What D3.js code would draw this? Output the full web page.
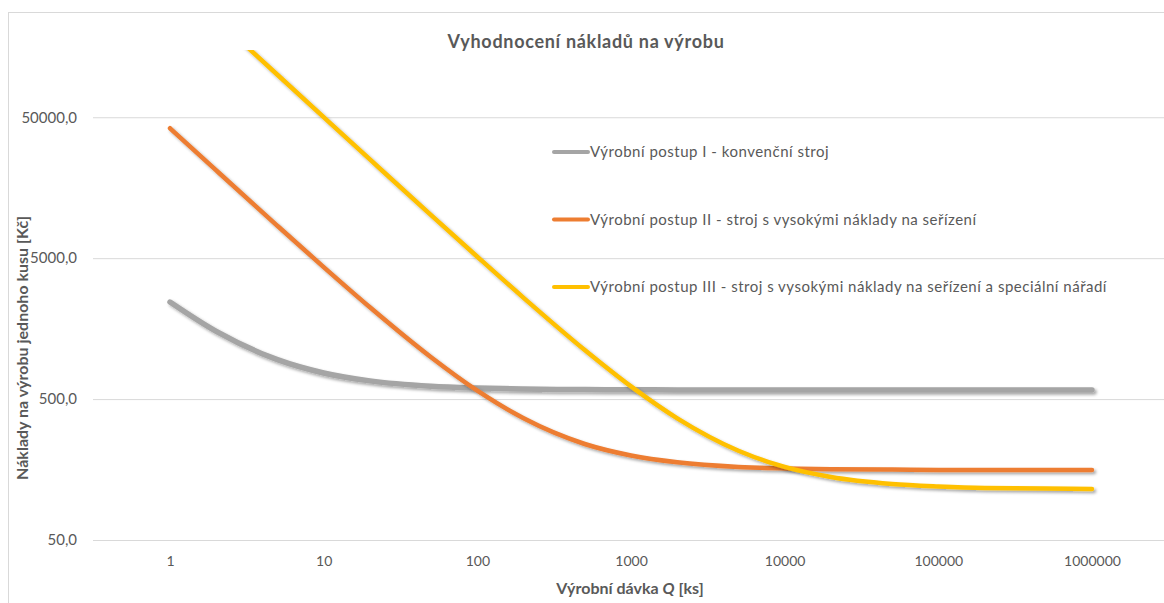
<!DOCTYPE html>
<html>
<head>
<meta charset="utf-8">
<script src="https://cdn.jsdelivr.net/npm/d3@7"></script>
<style>
  body { margin: 0; background: #fff; }
  text { font-family: Lato, "Open Sans", sans-serif; fill: #595959; }
</style>
</head>
<body>
<div class="canvas"></div>
<script>
// data
const batchSizes = [1, 2, 5, 10, 20, 50, 100, 200, 500, 1000, 2000, 5000, 10000, 20000, 50000, 100000, 200000, 500000, 1000000];
const costConventional = [2440, 1510, 952, 766, 673, 617, 599, 589, 584, 582, 581, 580, 580, 580, 580, 580, 580, 580, 580];
const costSetup = [41760, 20960, 8480, 4320, 2240, 990, 573, 365, 240, 199, 178, 165, 161, 159, 158, 157, 157, 157, 157];
const costSetupTools = [500100, 250100, 100100, 50100, 25100, 10100, 5115, 2615, 1115, 615, 365, 215, 165, 140, 125, 120, 117, 116, 115];
const seriesNames = [
  "Výrobní postup I - konvenční stroj",
  "Výrobní postup II - stroj s vysokými náklady na seřízení",
  "Výrobní postup III - stroj s vysokými náklady na seřízení a speciální nářadí"
];
const seriesColors = ["#a5a5a5", "#ed7d31", "#ffc000"];
const xTicks = [1, 10, 100, 1000, 10000, 100000, 1000000];
const yTicks = [50, 500, 5000, 50000];

const series = [costConventional, costSetup, costSetupTools].map((vals, i) => ({
  name: seriesNames[i],
  color: seriesColors[i],
  points: batchSizes.map((q, j) => [q, vals[j]])
}));

var svg = d3.select(".canvas").append("svg").attr("width", 1164).attr("height", 603);

// drop shadow like the office chart
const defs = svg.append("defs");
defs.append("filter").attr("id", "shadow")
    .attr("x", "-20%").attr("y", "-20%").attr("width", "140%").attr("height", "140%")
    .append("feDropShadow")
    .attr("dx", 2).attr("dy", 2).attr("stdDeviation", 1.8)
    .attr("flood-color", "#000").attr("flood-opacity", 0.35);

const plotLeft = 93, plotRight = 1169, plotTop = 50, plotBottom = 540;
defs.append("clipPath").attr("id", "plotclip")
    .append("rect").attr("x", plotLeft).attr("y", plotTop)
    .attr("width", plotRight - plotLeft).attr("height", plotBottom - plotTop);

// chart border
svg.append("rect")
    .attr("x", 8.5).attr("y", 12.5)
    .attr("width", 1170).attr("height", 600)
    .attr("fill", "none").attr("stroke", "#d9d9d9");

const x = d3.scaleLog().domain([1, 1000000]).range([170, 1092]);
const y = d3.scaleLog().domain([50, 150000]).range([plotBottom, plotTop]);

// gridlines + y labels
const yAxis = d3.axisLeft(y).tickValues(yTicks)
    .tickSize(-(plotRight - plotLeft))
    .tickFormat(d => d3.format(".1f")(d).replace(".", ","));
const gy = svg.append("g").attr("transform", `translate(${plotLeft},0)`).call(yAxis);
gy.select(".domain").remove();
gy.selectAll(".tick line").attr("stroke", "#d9d9d9");
gy.selectAll(".tick text").attr("font-size", 15).attr("fill", "#595959").attr("x", -16);

// x labels
const xAxis = d3.axisBottom(x).tickValues(xTicks).tickSize(0).tickPadding(16).tickFormat(d3.format("d"));
const gx = svg.append("g").attr("transform", `translate(0,${plotBottom})`).call(xAxis);
gx.select(".domain").remove();
gx.selectAll(".tick text").attr("font-size", 14).attr("fill", "#595959");

// lines
const line = d3.line()
    .x(d => x(d[0]))
    .y(d => y(d[1]))
    .curve(d3.curveMonotoneX);

const lines = svg.append("g").attr("clip-path", "url(#plotclip)");
lines.selectAll("path")
    .data(series)
    .join("path")
    .attr("d", d => line(d.points))
    .attr("fill", "none")
    .attr("stroke", d => d.color)
    .attr("stroke-width", (d, i) => i == 0 ? 5.5 : 4.5)
    .attr("stroke-linecap", "round")
    .attr("filter", "url(#shadow)");

// legend
const legend = svg.append("g");
series.forEach((s, i) => {
    const ly = 152 + i * 67.5;
    legend.append("line")
        .attr("x1", 554).attr("x2", 588)
        .attr("y1", ly).attr("y2", ly)
        .attr("stroke", s.color).attr("stroke-width", 4).attr("stroke-linecap", "round");
    legend.append("text")
        .text(s.name)
        .attr("x", 590).attr("y", ly + 5)
        .attr("font-size", 15)
        .attr("letter-spacing", 0.5);
});

// titles
svg.append("text")
    .text("Vyhodnocení nákladů na výrobu")
    .attr("x", 586).attr("y", 48)
    .attr("text-anchor", "middle")
    .attr("font-size", 18).attr("font-weight", "bold")
    .attr("letter-spacing", 0.7);

const xTitle = svg.append("text")
    .attr("x", 630).attr("y", 594)
    .attr("text-anchor", "middle")
    .attr("font-size", 16).attr("font-weight", "bold");
xTitle.append("tspan").text("Výrobní dávka ");
xTitle.append("tspan").text("Q").attr("font-style", "italic");
xTitle.append("tspan").text(" [ks]");

svg.append("text")
    .text("Náklady na výrobu jednoho kusu [Kč]")
    .attr("transform", "translate(28,348) rotate(-90)")
    .attr("text-anchor", "middle")
    .attr("font-size", 16).attr("font-weight", "bold");
</script>
</body>
</html>
